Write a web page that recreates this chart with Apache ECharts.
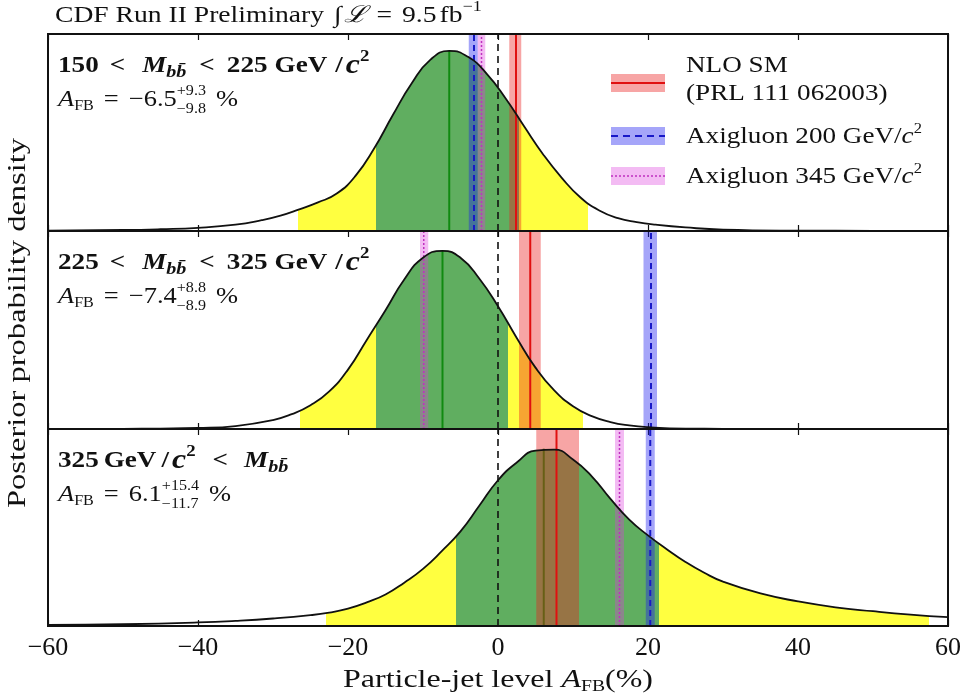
<!DOCTYPE html>
<html>
<head>
<meta charset="utf-8">
<script src="https://cdn.jsdelivr.net/npm/echarts@6/dist/echarts.min.js"></script>
<style>
  html, body { margin: 0; padding: 0; background: #fff; }
  #main { width: 961px; height: 700px; }
</style>
</head>
<body>
<div id="main"></div>
<script>
// posterior densities (arbitrary units) for the three mass bins
var xs1  = [-60, -50, -45, -40, -35, -31.5, -29, -26.5, -24, -21.5, -19, -16.5, -14, -11.5, -9, -6.5, -4, -1.5, 1, 3.5, 6, 8.5, 11, 13.5, 16, 18.5, 21, 25, 30, 40, 50, 60];
var pdf1 = [0.002, 0.005, 0.009, 0.016, 0.032, 0.055, 0.078, 0.11, 0.145, 0.19, 0.28, 0.42, 0.59, 0.75, 0.87, 0.914, 0.884, 0.798, 0.674, 0.53, 0.39, 0.27, 0.17, 0.104, 0.065, 0.045, 0.032, 0.018, 0.007, 0.002, 0.001, 0];

var xs2  = [-60, -50, -45, -40, -35, -30, -27.5, -25, -22.5, -20, -17.5, -15, -12.5, -10, -7.4, -5, -2.5, 0, 2.5, 5, 7.5, 10, 12.5, 15, 17.5, 20, 25, 30, 40, 60];
var pdf2 = [0, 0.001, 0.002, 0.005, 0.015, 0.045, 0.075, 0.12, 0.19, 0.3, 0.45, 0.6, 0.755, 0.865, 0.9, 0.865, 0.76, 0.62, 0.46, 0.31, 0.195, 0.115, 0.065, 0.035, 0.018, 0.009, 0.002, 0.001, 0, 0];

var xs3  = [-60, -50, -40, -35, -30, -25, -22.5, -20, -17.5, -15, -12.5, -10, -7.5, -5, -2.5, 0, 2.5, 5, 7.5, 10, 12.5, 15, 17.5, 20, 22.5, 25, 27.5, 30, 35, 40, 45, 50, 55, 60];
var pdf3 = [0.005, 0.009, 0.018, 0.026, 0.038, 0.055, 0.068, 0.088, 0.12, 0.16, 0.22, 0.29, 0.38, 0.48, 0.61, 0.74, 0.83, 0.89, 0.895, 0.845, 0.76, 0.645, 0.54, 0.46, 0.39, 0.325, 0.27, 0.225, 0.165, 0.125, 0.095, 0.075, 0.058, 0.045];

var modes    = [-6.5, -7.4, 6.1];
var modePeak = [0.914, 0.9, 0.9];
var ci68 = [[-16.3, 2.8], [-16.3, 1.4], [-5.6, 21.5]];
var ci95 = [[-26.7, 12.0], [-26.4, 11.3], [-23.0, 57.5]];

// predictions: [low, central, high]
var nloSM  = [[1.5, 2.4, 3.1], [2.8, 4.3, 5.7], [5.1, 7.8, 10.8]];
var axi200 = [[-3.9, -3.2, -2.7], [19.4, 20.4, 21.2], [19.7, 20.3, 20.9]];
var axi345 = [[-2.7, -2.2, -1.7], [-10.4, -9.9, -9.3], [15.6, 16.2, 16.8]];

var xTicks = [-60, -40, -20, 0, 20, 40, 60];

var massLo   = ['150', '225', null];
var massHi   = ['225', '325', '325'];
var afbVal   = ['\u22126.5', '\u22127.4', '6.1'];
var afbUp    = ['+9.3', '+8.8', '+15.4'];
var afbDown  = ['\u22129.8', '\u22128.9', '\u221211.7'];
var legendNames = ['NLO SM', '(PRL 111 062003)', 'Axigluon 200 GeV/', 'Axigluon 345 GeV/'];

var FONT = '"Liberation Serif", "DejaVu Serif", serif';
var gridTop = [34, 231, 429];
var gridH = [197, 198, 197];

var myChart = echarts.init(document.getElementById('main'));
var mctx = document.createElement('canvas').getContext('2d');

// lay out a row of text runs (sub/superscripts, gaps), returns {els, width}
function textRow(x0, yc, runs, base) {
	var els = [];
	var x = x0;
	var sx = base.sx || 1;
	runs.forEach(function (r) {
		if (r.gap !== undefined) { x += r.gap; return; }
		var size = r.s || base.s;
		var bold = r.b !== undefined ? r.b : base.b;
		var font = (r.it ? 'italic ' : '') + (bold ? 'bold ' : '') + size + 'px ' + FONT;
		mctx.font = font;
		if (r.sup !== undefined) {
			var w1 = mctx.measureText(r.sup).width, w2 = mctx.measureText(r.sub).width;
			els.push(txt(x, yc - r.off, r.sup, font, sx));
			els.push(txt(x, yc + r.off, r.sub, font, sx));
			x += Math.max(w1, w2) * sx;
		} else {
			els.push(txt(x, yc + (r.dy || 0), r.t, font, sx));
			x += mctx.measureText(r.t).width * sx;
		}
	});
	return { els: els, width: x - x0 };
}
function txt(x, y, t, font, sx) {
	return {
		type: 'text', x: x, y: y, scaleX: sx, silent: true, z: 30,
		style: { text: t, font: font, fill: '#111', align: 'left', verticalAlign: 'middle', textAlign: 'left', textVerticalAlign: 'middle' }
	};
}
function centered(cx, yc, runs, base) {
	var w = textRow(0, yc, runs, base).width;
	return textRow(cx - w / 2, yc, runs, base).els;
}

var grids = [], xAxes = [], yAxes = [], series = [], visualMaps = [], graphics = [];
var curves = [[xs1, pdf1], [xs2, pdf2], [xs3, pdf3]];

function vline(i, xv, y1, style, z) {
	return {
		type: 'line', xAxisIndex: 2 * i, yAxisIndex: i, silent: true, symbol: 'none', z: z,
		data: [[xv, 0], [xv, y1]], lineStyle: style
	};
}
function band(i, lo, hi, color) {
	return {
		type: 'custom', xAxisIndex: 2 * i, yAxisIndex: i, silent: true, z: 3,
		encode: { x: [0, 1] },
		data: [[lo, hi]],
		renderItem: function (params, api) {
			var p0 = api.coord([api.value(0), 1]);
			var p1 = api.coord([api.value(1), 0]);
			return { type: 'rect', shape: { x: p0[0], y: p0[1], width: p1[0] - p0[0], height: p1[1] - p0[1] }, style: { fill: color } };
		}
	};
}

for (var i = 0; i < 3; i++) {
	grids.push({ left: 48, width: 900, top: gridTop[i], height: gridH[i], show: true, borderColor: '#111', borderWidth: 2, backgroundColor: 'transparent', z: 20, outerBoundsMode: 'none' });
	var tickStyle = { inside: true, length: 6, lineStyle: { color: '#111', width: 1.2 } };
	xAxes.push({
		gridIndex: i, type: 'value', min: -60, max: 60, interval: 20, position: 'bottom',
		axisLine: { show: false }, axisTick: tickStyle, splitLine: { show: false },
		axisLabel: {
			show: i === 2, margin: 9, fontSize: 26, fontFamily: FONT, color: '#111',
			formatter: function (v) { return v < 0 ? '\u2212' + (-v) : '' + v; }
		}
	});
	xAxes.push({
		gridIndex: i, type: 'value', min: -60, max: 60, interval: 20, position: 'top',
		axisLine: { show: false }, axisTick: tickStyle, splitLine: { show: false }, axisLabel: { show: false }
	});
	yAxes.push({ gridIndex: i, type: 'value', min: 0, max: 1, show: false });

	var pts = curves[i][0].map(function (x, k) { return [x, curves[i][1][k]]; });

	// filled credibility regions
	visualMaps.push({
		type: 'piecewise', show: false, dimension: 0, seriesIndex: series.length,
		pieces: [
			{ lt: ci95[i][0], color: 'rgba(255,255,255,0)' },
			{ gte: ci95[i][0], lt: ci68[i][0], color: '#ffff40' },
			{ gte: ci68[i][0], lte: ci68[i][1], color: '#60ae60' },
			{ gt: ci68[i][1], lte: ci95[i][1], color: '#ffff40' },
			{ gt: ci95[i][1], color: 'rgba(255,255,255,0)' }
		]
	});
	series.push({
		type: 'line', xAxisIndex: 2 * i, yAxisIndex: i, silent: true, data: pts,
		smooth: 0.5, symbol: 'none', lineStyle: { width: 0 }, areaStyle: { opacity: 1 }, z: 1
	});
	series.push(vline(i, modes[i], modePeak[i], { color: '#108a10', width: 2 }, 2));
	series.push(band(i, nloSM[i][0], nloSM[i][2], 'rgba(235,30,30,0.4)'));
	series.push(band(i, axi200[i][0], axi200[i][2], 'rgba(30,30,240,0.4)'));
	series.push(band(i, axi345[i][0], axi345[i][2], 'rgba(220,60,220,0.35)'));
	series.push(vline(i, nloSM[i][1], 1, { color: '#e01010', width: 2 }, 4));
	series.push(vline(i, axi200[i][1], 1, { color: '#1818c8', width: 2, type: [6, 4] }, 4));
	series.push(vline(i, axi345[i][1], 1, { color: '#c030c0', width: 1.5, type: [2, 2] }, 4));
	series.push(vline(i, 0, 1, { color: '#111', width: 1.6, type: [7, 5] }, 4));
	series.push({
		type: 'line', xAxisIndex: 2 * i, yAxisIndex: i, silent: true, data: pts,
		smooth: 0.5, symbol: 'none', lineStyle: { color: '#111', width: 1.8 }, z: 5
	});

	// panel labels
	var y1 = gridTop[i] + 32, y2 = gridTop[i] + 66;
	var bb = { s: 23, b: true, sx: 1.18 };
	var sub = { t: 'bb\u0304', it: true, s: 17, dy: 7 };
	var row1;
	if (massLo[i] !== null) {
		row1 = [{ t: massLo[i] }, { gap: 11 }, { t: '<' }, { gap: 17 }, { t: 'M', it: true }, sub, { gap: 13 },
			{ t: '<' }, { gap: 12 }, { t: massHi[i] }, { gap: 7 }, { t: 'GeV' }, { gap: 8 }, { t: '/' }, { gap: 3 },
			{ t: 'c', it: true, s: 27 }, { t: '2', s: 16, dy: -9 }];
	} else {
		row1 = [{ t: massHi[i] }, { gap: 5 }, { t: 'GeV' }, { gap: 5 }, { t: '/' }, { gap: 3 },
			{ t: 'c', it: true, s: 27 }, { t: '2', s: 16, dy: -9 }, { gap: 17 }, { t: '<' }, { gap: 16 }, { t: 'M', it: true }, sub];
	}
	graphics = graphics.concat(textRow(58, y1, row1, bb).els);
	graphics = graphics.concat(textRow(58, y2, [
		{ t: 'A', it: true }, { t: 'FB', s: 14, dy: 6 }, { gap: 10 }, { t: '=' }, { gap: 10 }, { t: afbVal[i] },
		{ sup: afbUp[i], sub: afbDown[i], s: 14, off: 9 }, { gap: 10 }, { t: '%' }
	], { s: 23, b: false, sx: 1.15 }).els);
}

// title
graphics = graphics.concat(textRow(55, 16, [
	{ t: 'CDF Run II Preliminary' }, { gap: 10 }, { t: '\u222B' }, { gap: 2 }, { t: '\u2112', it: true }, { gap: 10 },
	{ t: '=' }, { gap: 10 }, { t: '9.5' }, { gap: 3 }, { t: 'fb' }, { t: '\u22121', s: 15, dy: -9 }
], { s: 23, b: false, sx: 1.2 }).els);

// axis titles
graphics = graphics.concat(centered(498, 680, [
	{ t: 'Particle-jet level ' }, { t: 'A', it: true }, { t: 'FB', s: 16, dy: 7 }, { t: '(%)' }
], { s: 26, b: false, sx: 1.23 }));
graphics.push({
	type: 'text', x: 18, y: 323, rotation: Math.PI / 2, scaleX: 1.25, silent: true, z: 30,
	style: { text: 'Posterior probability density', font: '26px ' + FONT, fill: '#111', align: 'center', verticalAlign: 'middle', textAlign: 'center', textVerticalAlign: 'middle' }
});

// legend
var legY = [83, 136, 176];
graphics.push({ type: 'rect', z: 30, shape: { x: 611, y: legY[0] - 9, width: 54, height: 18 }, style: { fill: 'rgba(235,30,30,0.4)' } });
graphics.push({ type: 'line', z: 31, shape: { x1: 611, y1: legY[0], x2: 665, y2: legY[0] }, style: { stroke: '#e01010', lineWidth: 2 } });
graphics.push({ type: 'rect', z: 30, shape: { x: 611, y: legY[1] - 9, width: 54, height: 18 }, style: { fill: 'rgba(30,30,240,0.4)' } });
graphics.push({ type: 'line', z: 31, shape: { x1: 611, y1: legY[1], x2: 665, y2: legY[1] }, style: { stroke: '#1818c8', lineWidth: 2, lineDash: [7, 5] } });
graphics.push({ type: 'rect', z: 30, shape: { x: 611, y: legY[2] - 9, width: 54, height: 18 }, style: { fill: 'rgba(220,60,220,0.35)' } });
graphics.push({ type: 'line', z: 31, shape: { x1: 611, y1: legY[2], x2: 665, y2: legY[2] }, style: { stroke: '#c030c0', lineWidth: 1.5, lineDash: [2, 2] } });
var lb = { s: 23, b: false, sx: 1.18 };
graphics = graphics.concat(textRow(686, 66, [{ t: legendNames[0] }], lb).els);
graphics = graphics.concat(textRow(686, 94, [{ t: legendNames[1] }], lb).els);
graphics = graphics.concat(textRow(686, 137, [{ t: legendNames[2] }, { t: 'c', it: true }, { t: '2', s: 14, dy: -8 }], lb).els);
graphics = graphics.concat(textRow(686, 177, [{ t: legendNames[3] }, { t: 'c', it: true }, { t: '2', s: 14, dy: -8 }], lb).els);

option = {
	backgroundColor: '#fff',
	animation: false,
	grid: grids,
	xAxis: xAxes,
	yAxis: yAxes,
	visualMap: visualMaps,
	series: series,
	graphic: { elements: graphics }
};
myChart.setOption(option);
</script>
</body>
</html>
